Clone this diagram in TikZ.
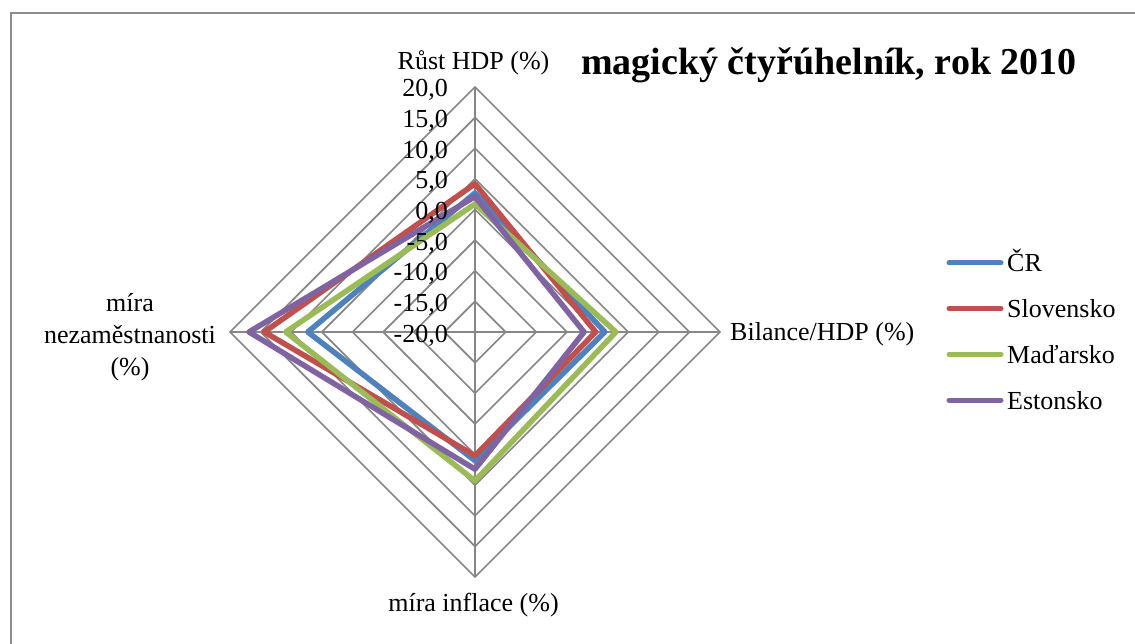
\documentclass[tikz,border=0pt]{standalone}
\usepackage{fontspec}
\setmainfont{Liberation Serif}
\definecolor{crblue}{HTML}{4F81BD}
\definecolor{skred}{HTML}{C0504D}
\definecolor{hugreen}{HTML}{9BBB59}
\definecolor{eepurple}{HTML}{8064A2}
\definecolor{gridgray}{HTML}{878787}
\definecolor{framegray}{HTML}{8C8C8C}
\newcommand\radarseries[5]{%
  \draw[series,#1] (475,{332-(#2+20)*6.125}) -- ({475+(#3+20)*6.125},332)
    -- (475,{332+(#4+20)*6.125}) -- ({475-(#5+20)*6.125},332) -- cycle;}
\begin{document}
\begin{tikzpicture}[x=1pt,y=-1pt,
  gridline/.style={draw=gridgray,line width=1.6pt},
  series/.style={line width=5.5pt,line join=round},
  lbl/.style={font=\fontsize{26}{30}\selectfont,inner sep=0pt},
  ticklbl/.style={lbl,anchor=base east},
  legline/.style={line width=5pt,line cap=round}]
\clip (0,0) rectangle (1135,644);
\fill[white] (0,0) rectangle (1135,644);
% chart frame
\draw[framegray,line width=2pt] (10.5,13.5) rectangle (1150,660);
% grid rings
\foreach \k in {1,...,8}{
  \draw[gridline] (475,{332-30.625*\k}) -- ({475+30.625*\k},332) -- (475,{332+30.625*\k}) -- ({475-30.625*\k},332) -- cycle;
}
% spokes
\coordinate (C) at (475,332);
\coordinate (T) at (475,87);
\coordinate (Rt) at (720,332);
\coordinate (B) at (475,577);
\coordinate (L) at (230,332);
\draw[gridline] (C) -- (T);
\draw[gridline] (C) -- (Rt);
\draw[gridline] (C) -- (B);
\draw[gridline] (C) -- (L);
% series
\radarseries{crblue}{2.7}{1.2}{1.0}{7.3}
\radarseries{skred}{4.2}{-0.3}{0.2}{14.4}
\radarseries{hugreen}{0.9}{3.0}{4.3}{10.9}
\radarseries{eepurple}{2.1}{-2.2}{2.4}{16.9}
% tick labels
\foreach \k/\t in {0/{-20,0},1/{-15,0},2/{-10,0},3/{-5,0},4/{0,0},5/{5,0},6/{10,0},7/{15,0},8/{20,0}}{
  \node[ticklbl] (tick\k) at (448,{332-30.625*\k+10}) {\t};
}
% axis labels
\node[lbl,anchor=base] (axT) at (473.5,70) {Růst HDP (\%)};
\node[lbl,anchor=base west] (axR) at (730,340) {Bilance/HDP (\%)};
\node[lbl,anchor=base] (axB) at (473.5,611) {míra inflace (\%)};
\node[lbl,anchor=base,align=center] (axL) at (130,375) {míra\\[2pt]nezaměstnanosti\\[2pt](\%)};
% title
\node[font=\fontsize{38}{44}\selectfont\bfseries,inner sep=0pt,anchor=base west] (title) at (581,75) {magický čtyřúhelník, rok 2010};
% legend
\foreach \i/\c/\n in {0/crblue/ČR,1/skred/Slovensko,2/hugreen/Maďarsko,3/eepurple/Estonsko}{
  \coordinate (la\i) at (949,{263+45.7*\i});
  \coordinate (lb\i) at (1001,{263+45.7*\i});
  \draw[legline,\c] (la\i) -- (lb\i);
  \node[lbl,anchor=base west] (leg\i) at (1007,{263+45.7*\i+9}) {\n};
}
\end{tikzpicture}
\end{document}
